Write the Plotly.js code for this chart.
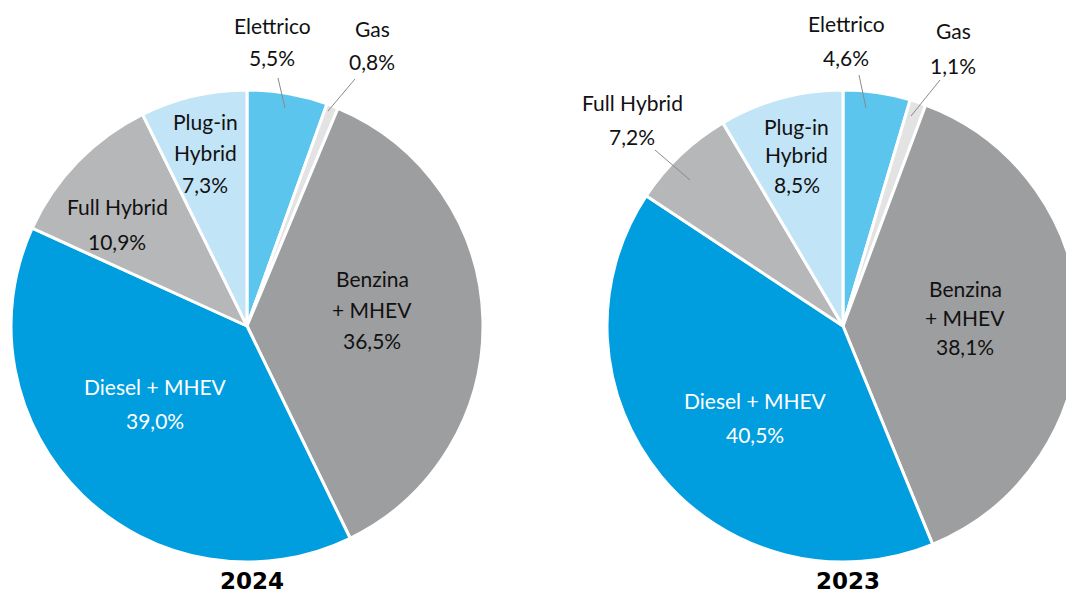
<!DOCTYPE html>
<html>
<head>
<meta charset="utf-8">
<script src="https://cdn.plot.ly/plotly-3.0.1.min.js"></script>
<style>
html,body{margin:0;padding:0;overflow:hidden;background:#fff;}
#chart{width:1100px;height:595px;}
</style>
</head>
<body>
<div id="chart"></div>
<script>
// ---- data ----
const categories = ["Elettrico", "Gas", "Benzina + MHEV", "Diesel + MHEV", "Full Hybrid", "Plug-in Hybrid"];
const labelLines = [["Elettrico"], ["Gas"], ["Benzina", "+ MHEV"], ["Diesel + MHEV"], ["Full Hybrid"], ["Plug-in", "Hybrid"]];
const values2024 = [5.5, 0.8, 36.5, 39.0, 10.9, 7.3];
const values2023 = [4.6, 1.1, 38.1, 40.5, 7.2, 8.5];
const years = ["2024", "2023"];
const sliceColors = ["#5bc5ee", "#e3e3e4", "#9d9ea0", "#009ddf", "#b6b7b9", "#c2e4f7"];

// ---- layout helpers (pixel positions -> paper coords) ----
const W = 1100, H = 595;
const fx = p => p / W;
const fy = p => 1 - p / H;

const pies = [
  {vals: values2024, left: 11, right: 483, top: 90, bottom: 562, cx: 247},
  {vals: values2023, left: 607, right: 1079, top: 90, bottom: 562, cx: 843}
];

// label anchor positions (first line center) and line spacing, per pie, per category
const labelPos = [
  [[272, 26, 32], [372, 28, 34], [372, 278, 31], [155, 386, 34], [117, 206, 35], [205, 122, 31]],
  [[846, 24, 34], [953, 30, 35], [965, 288, 29], [755, 400, 34], [632, 102, 35], [797, 126, 29]]
];
const leaders = [
  [[278, 78, 285, 108], [355, 79, 328, 111]],
  [[859, 75, 866, 108], [940, 80, 911, 116], [655, 150, 690, 180]]
];

const fmt = v => v.toFixed(1).replace(".", ",") + "%";
const fontFam = "Lato, 'Noto Sans', sans-serif";

const traces = pies.map((p, i) => ({
  type: "pie",
  labels: categories,
  values: p.vals,
  sort: false,
  direction: "clockwise",
  rotation: 0,
  textinfo: "none",
  hoverinfo: "label+percent",
  marker: {colors: sliceColors, line: {color: "#ffffff", width: 3}},
  domain: {x: [fx(p.left), fx(p.right)], y: [fy(p.bottom), fy(p.top)]},
  showlegend: false
}));

const annotations = [];
pies.forEach((p, i) => {
  categories.forEach((c, k) => {
    const [x, y, dy] = labelPos[i][k];
    const lines = labelLines[k].concat([fmt(p.vals[k])]);
    lines.forEach((t, j) => {
      annotations.push({
        xref: "paper", yref: "paper",
        x: fx(x), y: fy(y + j * dy),
        text: t, showarrow: false,
        xanchor: "center", yanchor: "middle",
        font: {family: fontFam, size: 21, color: k === 3 ? "#ffffff" : "#111111"}
      });
    });
  });
  annotations.push({
    xref: "paper", yref: "paper",
    x: fx(p.cx + 5), y: fy(581),
    text: "<b>" + years[i] + "</b>", showarrow: false,
    xanchor: "center", yanchor: "middle",
    font: {family: "'DejaVu Sans', sans-serif", size: 23, color: "#000000"}
  });
});

const shapes = [];
leaders.forEach(list => list.forEach(([x0, y0, x1, y1]) => {
  shapes.push({type: "line", xref: "paper", yref: "paper",
    x0: fx(x0), y0: fy(y0), x1: fx(x1), y1: fy(y1),
    line: {color: "#8a8a8a", width: 1}});
}));

const layout = {
  width: W, height: H,
  margin: {l: 0, r: 0, t: 0, b: 0},
  paper_bgcolor: "#ffffff",
  annotations: annotations,
  shapes: shapes,
  showlegend: false
};

Plotly.newPlot("chart", traces, layout, {displayModeBar: false, staticPlot: true});
</script>
</body>
</html>
